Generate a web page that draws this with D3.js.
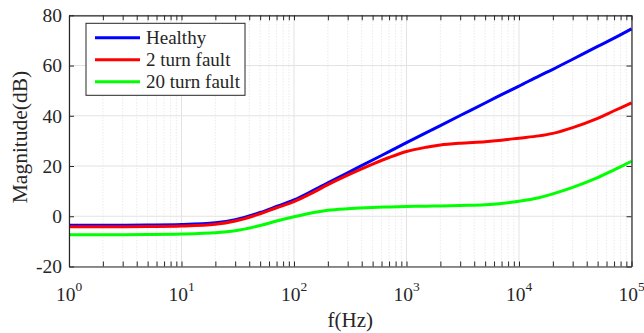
<html>
    <head>
    <meta charset="utf-8">
    <style>
        body { margin:0; background:#fff; }
        text { font-family: "Liberation Serif", "Times New Roman", serif; fill:#262626; }
    </style>
    </head>
    <body>
        <div id="chart"><svg></svg></div>
    </body>
    <script src="https://d3js.org/d3.v7.min.js"></script>
    <script>
    // frequencies in Hz, magnitudes in dB
    var freqs   = [1, 2, 5, 10, 20, 30, 50, 70, 100, 150, 200, 300, 500, 700, 1000, 1500, 2000, 3000, 5000, 7000, 10000, 15000, 20000, 30000, 50000, 70000, 100000]
    var healthy = [-3.6, -3.6, -3.5, -3.3, -2.6, -1.4, 1.5, 3.9, 6.5, 10.4, 13.3, 17.3, 22.4, 25.7, 29.3, 33.3, 36.1, 40.1, 45.1, 48.4, 51.8, 55.8, 58.5, 62.5, 67.6, 70.9, 74.6]
    var fault2  = [-4.2, -4.2, -4.1, -3.9, -3.2, -1.9, 1.0, 3.4, 5.8, 9.6, 12.6, 16.4, 20.8, 23.4, 25.8, 27.5, 28.4, 29.1, 29.7, 30.3, 31.1, 32.0, 33.0, 35.3, 39.0, 42.0, 45.1]
    var fault20 = [-7.4, -7.4, -7.3, -7.1, -6.6, -5.8, -3.7, -1.9, -0.2, 1.5, 2.4, 3.0, 3.5, 3.7, 3.9, 4.0, 4.1, 4.3, 4.6, 5.1, 6.0, 7.4, 8.9, 11.5, 15.4, 18.5, 21.9]

    var seriesNames  = ["Healthy", "2 turn fault", "20 turn fault"]
    var seriesColors = ["#0000ff", "#ff0000", "#00ff00"]
    var seriesValues = [healthy, fault2, fault20]

    var xTicks = [1, 10, 100, 1000, 10000, 100000]
    var xExps  = ["0", "1", "2", "3", "4", "5"]
    var yTicks = [-20, 0, 20, 40, 60, 80]

    var screen = {width: 644, height: 333}
    var plot = {left: 69, right: 631.5, top: 15.3, bottom: 266.5}

    var svg = d3.select("#chart svg")
                .attr("width", screen.width)
                .attr("height", screen.height)

    var xScale = d3.scaleLog()
                    .domain([1, 100000])
                    .range([plot.left, plot.right])
    var yScale = d3.scaleLinear()
                    .domain([-20, 80])
                    .range([plot.bottom, plot.top])

    // minor decade ticks 2..9
    var minor = []
    xTicks.slice(0, -1).forEach(function(d){
        for (var k = 2; k <= 9; k++) minor.push(d * k)
    })

    // grid
    var grid = svg.append("g")
    grid.selectAll(".minor")
        .data(minor)
        .enter()
        .append("line")
        .attr("x1", function(d){return xScale(d)})
        .attr("x2", function(d){return xScale(d)})
        .attr("y1", plot.top)
        .attr("y2", plot.bottom)
        .attr("stroke", "#d9d9d9")
        .attr("stroke-width", 0.8)
        .attr("stroke-dasharray", "1,2")
    grid.selectAll(".vmajor")
        .data(xTicks)
        .enter()
        .append("line")
        .attr("x1", function(d){return xScale(d)})
        .attr("x2", function(d){return xScale(d)})
        .attr("y1", plot.top)
        .attr("y2", plot.bottom)
        .attr("stroke", "#e3e3e3")
        .attr("stroke-width", 1)
    grid.selectAll(".hmajor")
        .data(yTicks)
        .enter()
        .append("line")
        .attr("x1", plot.left)
        .attr("x2", plot.right)
        .attr("y1", function(d){return yScale(d)})
        .attr("y2", function(d){return yScale(d)})
        .attr("stroke", "#e3e3e3")
        .attr("stroke-width", 1)

    // curves
    var linegenerator = d3.line()
                            .x(function(v, i){return xScale(freqs[i])})
                            .y(function(v){return yScale(v)})
                            .curve(d3.curveCatmullRom.alpha(0.5))
    svg.append("g")
        .selectAll("path")
        .data(seriesValues)
        .enter()
        .append("path")
        .attr("d", linegenerator)
        .attr("fill", "none")
        .attr("stroke", function(d, i){return seriesColors[i]})
        .attr("stroke-width", 3)

    // axes (ticks point inward, like matlab)
    var allX = xTicks.concat(minor)
    var axes = svg.append("g")
    axes.append("g")
        .attr("transform", "translate(0," + plot.bottom + ")")
        .call(d3.axisBottom(xScale).tickValues(allX).tickFormat("").tickSizeInner(-5).tickSizeOuter(0))
    axes.append("g")
        .attr("transform", "translate(0," + plot.top + ")")
        .call(d3.axisTop(xScale).tickValues(allX).tickFormat("").tickSizeInner(-5).tickSizeOuter(0))
    axes.append("g")
        .attr("transform", "translate(" + plot.left + ",0)")
        .call(d3.axisLeft(yScale).tickValues(yTicks).tickFormat(function(d){return String(d)})
                .tickSizeInner(-5).tickSizeOuter(0).tickPadding(7))
    axes.append("g")
        .attr("transform", "translate(" + plot.right + ",0)")
        .call(d3.axisRight(yScale).tickValues(yTicks).tickFormat("").tickSizeInner(-5).tickSizeOuter(0))
    axes.selectAll(".domain").attr("stroke", "#262626").attr("stroke-width", 1.2)
    axes.selectAll(".tick line").attr("stroke", "#262626")
    axes.selectAll(".tick text")
        .style("font-family", "'Liberation Serif', serif")
        .style("font-size", "19.5px")
        .attr("fill", "#262626")

    // x tick labels 10^n
    var xlab = svg.append("g")
                .selectAll("text")
                .data(xTicks)
                .enter()
                .append("text")
                .attr("x", function(d){return xScale(d)})
                .attr("y", 300.5)
                .attr("text-anchor", "middle")
                .style("font-size", "19.5px")
    xlab.append("tspan").text("10")
    xlab.append("tspan")
        .attr("dy", -9.5)
        .style("font-size", "13.5px")
        .text(function(d, i){return xExps[i]})

    // axis titles
    svg.append("text")
        .attr("x", (plot.left + plot.right) / 2)
        .attr("y", 327)
        .attr("text-anchor", "middle")
        .style("font-size", "21px")
        .text("f(Hz)")
    svg.append("text")
        .attr("transform", "translate(26.5,137) rotate(-90)")
        .attr("text-anchor", "middle")
        .style("font-size", "21.5px")
        .text("Magnitude(dB)")

    // legend
    var legend = svg.append("g").attr("transform", "translate(86,23.3)")
    legend.append("rect")
        .attr("width", 159)
        .attr("height", 72)
        .attr("fill", "#fff")
        .attr("stroke", "#262626")
        .attr("stroke-width", 1)
    var rows = legend.selectAll(".row")
                    .data(seriesNames)
                    .enter()
                    .append("g")
                    .attr("transform", function(d, i){return "translate(0," + (14.5 + i * 22) + ")"})
    rows.append("line")
        .attr("x1", 9)
        .attr("x2", 54)
        .attr("stroke", function(d, i){return seriesColors[i]})
        .attr("stroke-width", 3)
    rows.append("text")
        .attr("x", 60)
        .attr("dy", "0.33em")
        .style("font-size", "19px")
        .text(function(d){return d})
    </script>
</html>
